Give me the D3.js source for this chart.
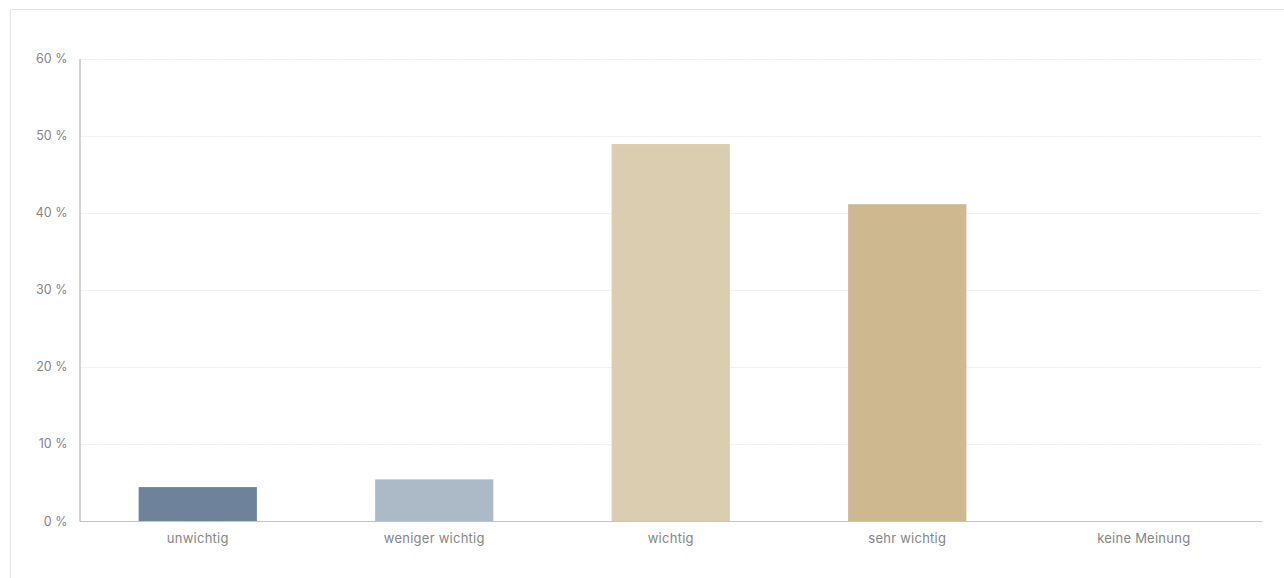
<!DOCTYPE html>
<html><head><meta charset="utf-8">
<script src="https://cdn.jsdelivr.net/npm/d3@7"></script>
<style>
html,body{margin:0;padding:0;background:#fff;}
body{width:1284px;height:578px;overflow:hidden;font-family:Inter, "Noto Sans", sans-serif;}
</style></head>
<body>
<svg id="chart" width="1284" height="578"></svg>
<script>
const categories = ["unwichtig", "weniger wichtig", "wichtig", "sehr wichtig", "keine Meinung"];
const values = [4.4, 5.4, 48.9, 41.1, 0];
const colors = ["#6e839b", "#acbac8", "#dbcdb0", "#cdb890", "#b8a06e"];
const yTicks = [0, 10, 20, 30, 40, 50, 60];

const svg = d3.select("#chart");
// outer frame
svg.append("path").attr("d", "M10.5,578 V9.5 H1284").attr("fill","none").attr("stroke","#e3e3e3").attr("stroke-width",1);

const m = {left:79.5, right:1262, top:58.5, bottom:521};
const x = d3.scaleBand().domain(categories).range([m.left, m.right]).paddingInner(0.5).paddingOuter(0.25);
const y = d3.scaleLinear().domain([0, 60]).range([m.bottom, m.top]);

// grid
svg.append("g").selectAll("line").data(yTicks.filter(d=>d>0)).join("line")
  .attr("x1", m.left).attr("x2", m.right)
  .attr("y1", d=>Math.round(y(d))+0.5).attr("y2", d=>Math.round(y(d))+0.5)
  .attr("stroke", "#ebebeb").attr("stroke-dasharray","2,1");

// bars
svg.append("g").selectAll("rect").data(categories).join("rect")
  .attr("x", d=>x(d)).attr("width", x.bandwidth())
  .attr("y", (d,i)=>y(values[i])).attr("height", (d,i)=>y(0)-y(values[i]))
  .attr("fill", (d,i)=>colors[i]);

// y axis
const yAxis = svg.append("g").attr("transform", `translate(${m.left},0)`)
  .call(d3.axisLeft(y).tickValues(yTicks).tickFormat(d=>d+" %").tickSize(0).tickPadding(12));
yAxis.select(".domain").attr("stroke","#c4c4c4").attr("stroke-width",1.5);
yAxis.selectAll("text").attr("fill","#858585").style("font-size","12.5px").style("font-family","Inter, sans-serif");

// x axis
const xAxis = svg.append("g").attr("transform", `translate(0,${m.bottom})`)
  .call(d3.axisBottom(x).tickSize(0).tickPadding(13));
xAxis.select(".domain").attr("stroke","#c4c4c4").attr("stroke-width",1.2);
xAxis.selectAll("text").attr("fill","#858585").style("font-size","13px").style("letter-spacing","0.25px").style("font-family","Inter, sans-serif");
</script>
</body></html>
